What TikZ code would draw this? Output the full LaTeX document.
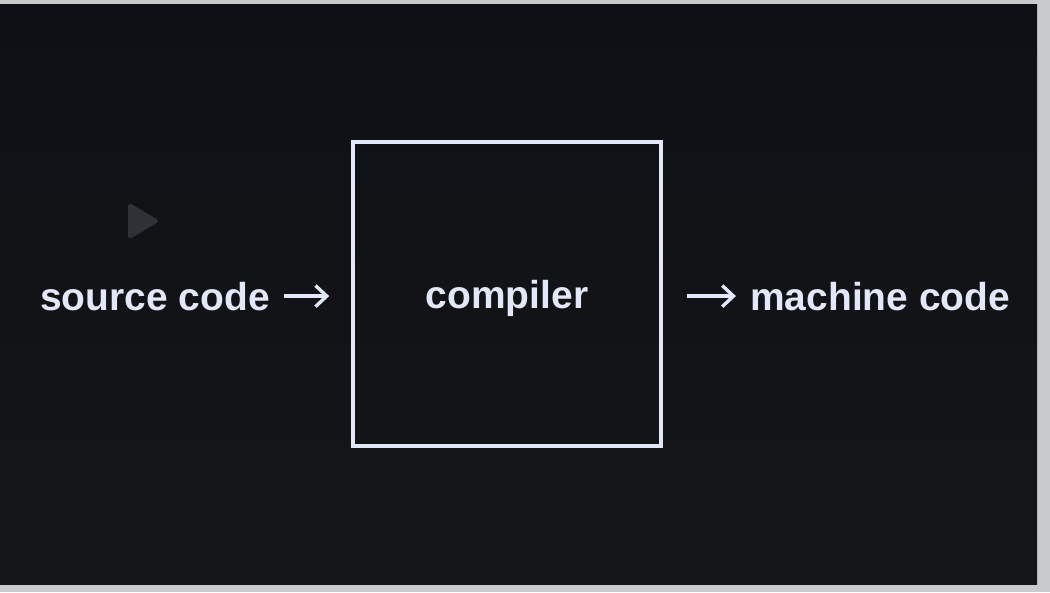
\documentclass[tikz,border=0pt]{standalone}
\usepackage{fontspec}
\setmainfont{Liberation Sans}
\usepackage{tikz}
\usetikzlibrary{arrows.meta,positioning}
\definecolor{slide}{HTML}{0D1015}
\definecolor{slidelow}{HTML}{151618}
\definecolor{frame}{HTML}{C9CACC}
\definecolor{chalk}{HTML}{E2E8F8}
\tikzstyle{line} = [draw=chalk, line width=2.4pt, -{Straight Barb[length=8pt,width=15pt,line width=2.4pt]}]

\begin{document}
\begin{tikzpicture}[x=0.025cm,y=-0.025cm]
\tikzstyle{word} = [text=chalk, inner sep=0pt, font=\fontsize{27.7}{33}\selectfont\bfseries]
\useasboundingbox (0,0) rectangle (1050,592);
\fill[frame] (0,0) rectangle (1050,592);
\shade[top color=slide, bottom color=slidelow] (0,4) rectangle (1037,584);
\fill[white!14!slide, rounded corners=3pt] (128,202) -- (160,221) -- (128,240) -- cycle;
\node[word, anchor=base west] (src) at (40,310) {source code};
\node[word, draw=chalk, line width=2.8pt, text height=27pt, text depth=5.7pt,
      minimum width=7.7cm, minimum height=7.6cm] (comp) at (507,294) {compiler};
\node[word, anchor=base west] (mach) at (750,310) {machine code};
\path [line, shorten <=10pt, shorten >=15.5pt] (src.east) -- (src.east -| comp.west);
\path [line, shorten <=17pt, shorten >=10pt] (comp.east |- mach.west) -- (mach.west);
\end{tikzpicture}
\end{document}
